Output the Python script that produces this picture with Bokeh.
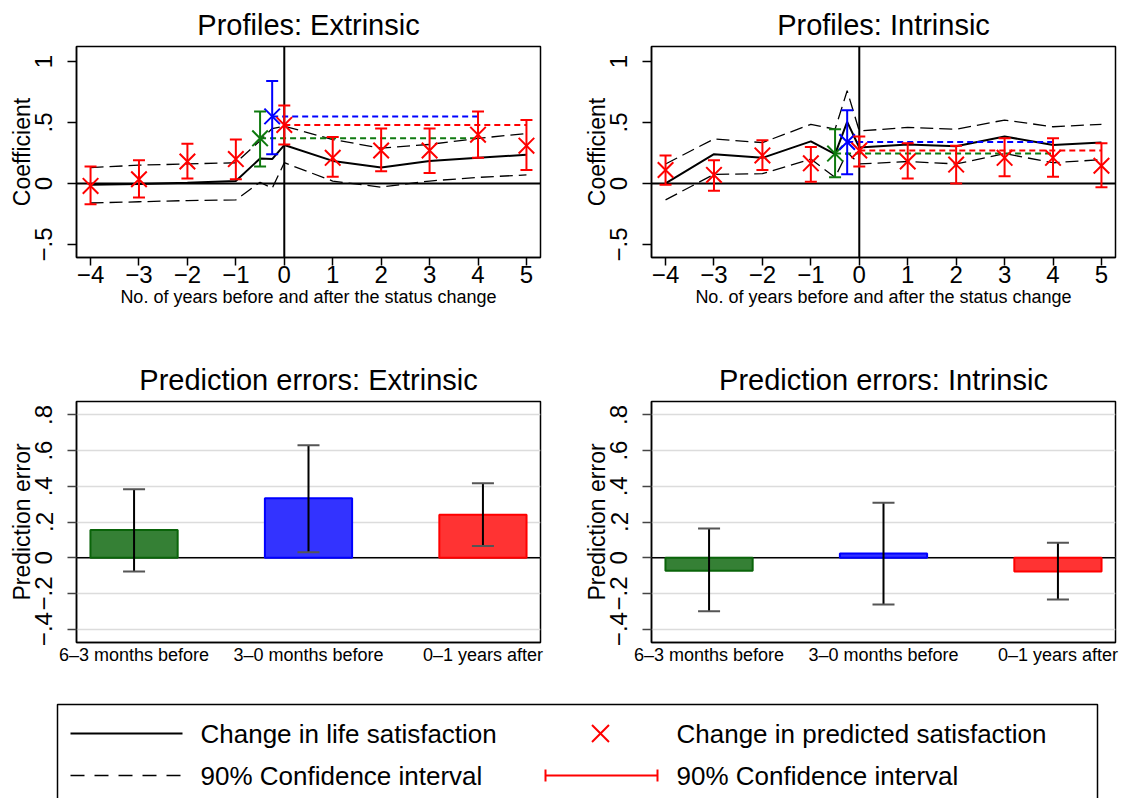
import math
from bokeh.plotting import figure
from bokeh.models import (Range1d, FixedTicker, Span, Whisker, TeeHead,
                          ColumnDataSource, CustomJSTickFormatter)
from bokeh.layouts import column, row
from bokeh.embed import file_html
from bokeh.resources import INLINE
from bokeh.core.properties import value

FONT = "Liberation Sans"

# ---------------- data ----------------
life_x = [-4, -3, -2, -1, -0.5, -0.25, 0, 1, 2, 3, 4, 5]
years = [-4, -3, -2, -1, 0, 1, 2, 3, 4, 5]

# Extrinsic profile
ext_life = [-0.01, -0.005, 0.005, 0.02, 0.205, 0.20, 0.315, 0.185, 0.13, 0.185, 0.21, 0.235]
ext_life_hi = [0.13, 0.15, 0.16, 0.17, 0.35, 0.45, 0.47, 0.36, 0.29, 0.32, 0.37, 0.41]
ext_life_lo = [-0.16, -0.15, -0.14, -0.135, 0.01, -0.04, 0.17, 0.02, -0.03, 0.02, 0.05, 0.07]
ext_pred = [-0.02, 0.035, 0.18, 0.20, 0.48, 0.21, 0.27, 0.27, 0.40, 0.31]
ext_pred_lo = [-0.17, -0.115, 0.04, 0.035, 0.32, 0.055, 0.10, 0.085, 0.21, 0.11]
ext_pred_hi = [0.14, 0.19, 0.325, 0.36, 0.64, 0.38, 0.45, 0.45, 0.59, 0.52]
ext_green = dict(x=-0.5, v=0.37, lo=0.14, hi=0.59, end=4)
ext_blue = dict(x=-0.25, v=0.55, lo=0.24, hi=0.84, end=4)

# Intrinsic profile
int_life = [0.0, 0.24, 0.21, 0.345, 0.24, 0.505, 0.295, 0.32, 0.305, 0.385, 0.315, 0.335]
int_life_hi = [0.16, 0.365, 0.335, 0.485, 0.445, 0.76, 0.43, 0.46, 0.445, 0.52, 0.465, 0.485]
int_life_lo = [-0.135, 0.075, 0.08, 0.2, 0.05, 0.255, 0.16, 0.18, 0.16, 0.245, 0.17, 0.195]
int_pred = [0.11, 0.07, 0.23, 0.165, 0.27, 0.18, 0.155, 0.21, 0.21, 0.145]
int_pred_lo = [-0.01, -0.06, 0.11, 0.015, 0.14, 0.04, 0.0, 0.06, 0.055, -0.03]
int_pred_hi = [0.23, 0.19, 0.355, 0.30, 0.385, 0.33, 0.31, 0.37, 0.37, 0.33]
int_green = dict(x=-0.5, v=0.245, lo=0.05, hi=0.445, end=4)
int_blue = dict(x=-0.25, v=0.34, lo=0.075, hi=0.60, end=4)
red_end = 5

# Prediction errors
periods = ["6\u20133 months before", "3\u20130 months before", "0\u20131 years after"]
pos = [1, 2, 3]
ext_err = [0.155, 0.333, 0.241]
ext_err_lo = [-0.077, 0.03, 0.065]
ext_err_hi = [0.383, 0.63, 0.417]
int_err = [-0.073, 0.024, -0.077]
int_err_lo = [-0.30, -0.262, -0.234]
int_err_hi = [0.163, 0.308, 0.084]

prof_yticks = [-0.5, 0, 0.5, 1]
err_yticks = [-0.4, -0.2, 0, 0.2, 0.4, 0.6, 0.8]

RED = "#ff0000"
BLUE = "#0000ff"
GREEN = "#0f7a0f"
bar_fill = ["#358035", "#3333ff", "#ff3333"]
bar_line = ["#0a640a", "#0000ff", "#ff0000"]

num_fmt = CustomJSTickFormatter(code="""
const t = Math.round(tick*10)/10;
if (t == 0) return "0";
let s = Math.abs(t).toString().replace(/^0/, "");
return (t < 0 ? "\u2212" : "") + s;
""")


def base_fig(title, w, h, top, bottom, right, xr, yr):
    p = figure(width=w, height=h, x_range=xr, y_range=yr,
               output_backend="svg", toolbar_location=None,
               min_border_left=76, min_border_right=right,
               min_border_top=top, min_border_bottom=bottom)
    p.title.text = title
    p.title.text_font = FONT
    p.title.text_font_size = "29px"
    p.title.text_font_style = "normal"
    p.title.text_color = "black"
    p.title.align = "center"
    p.title.standoff = 12
    p.outline_line_color = "black"
    p.outline_line_width = 1.5
    p.background_fill_color = "white"
    p.border_fill_color = "white"
    for ax in (p.xaxis[0], p.yaxis[0]):
        ax.axis_line_width = 1.5
        ax.axis_line_color = "black"
        ax.major_tick_in = 0
        ax.minor_tick_line_color = None
        ax.major_tick_line_width = 1.5
        ax.major_tick_line_color = "black"
        ax.major_label_text_font = FONT
        ax.major_label_text_color = "black"
        ax.axis_label_text_font = FONT
        ax.axis_label_text_color = "black"
        ax.axis_label_text_font_style = "normal"
    p.yaxis.major_label_text_font_size = "24px"
    p.yaxis.major_label_orientation = "parallel"
    p.yaxis.major_tick_out = 9
    p.yaxis.major_label_standoff = 15
    p.yaxis.axis_label_text_font_size = "23px"
    p.yaxis.axis_label_standoff = -2
    p.yaxis.formatter = num_fmt
    return p


def profile(title, life, lo, hi, pred, plo, phi, g, b, right):
    p = base_fig(title, 575 if right == 35 else 546, 340, 46, 83, right,
                 Range1d(-4.29, 5.29), Range1d(-0.607, 1.123))
    p.grid.visible = False
    p.yaxis.ticker = FixedTicker(ticks=prof_yticks)
    p.yaxis.axis_label = "Coefficient"
    p.xaxis.ticker = FixedTicker(ticks=years)
    p.xaxis.formatter = CustomJSTickFormatter(
        code='return tick < 0 ? "\u2212" + Math.abs(tick) : String(tick);')
    p.xaxis.major_label_text_font_size = "24px"
    p.xaxis.major_tick_out = 8
    p.xaxis.major_label_standoff = 0
    p.xaxis.axis_label = "No. of years before and after the status change"
    p.xaxis.axis_label_text_font_size = "18px"
    p.xaxis.axis_label_standoff = 1

    p.add_layout(Span(location=0, dimension="width", line_color="black",
                      line_width=2, level="underlay"))
    p.add_layout(Span(location=0, dimension="height", line_color="black",
                      line_width=2, level="underlay"))

    p.line(life_x, hi, line_color="black", line_width=1.3, line_dash="13 6")
    p.line(life_x, lo, line_color="black", line_width=1.3, line_dash="13 6")
    p.line(life_x, life, line_color="black", line_width=2)

    # horizontal dashed reference lines
    p.line([b["x"], b["end"]], [b["v"], b["v"]], line_color=BLUE, line_width=2, line_dash="6 4")
    p.line([0, red_end], [pred[years.index(0)]] * 2, line_color=RED, line_width=2, line_dash="6 4")
    p.line([g["x"], g["end"]], [g["v"], g["v"]], line_color=GREEN, line_width=2, line_dash="6 4")

    def errbars(xs, los, his, color):
        src = ColumnDataSource(dict(x=xs, lo=los, hi=his))
        w = Whisker(base="x", lower="lo", upper="hi", source=src, dimension="height",
                    line_color=color, line_width=2, level="overlay",
                    upper_head=TeeHead(size=12, line_color=color, line_width=2),
                    lower_head=TeeHead(size=12, line_color=color, line_width=2))
        p.add_layout(w)

    errbars(years, plo, phi, RED)
    errbars([g["x"]], [g["lo"]], [g["hi"]], GREEN)
    errbars([b["x"]], [b["lo"]], [b["hi"]], BLUE)
    p.scatter(years, pred, marker="x", size=22, line_color=RED, line_width=2)
    p.scatter([g["x"]], [g["v"]], marker="x", size=22, line_color=GREEN, line_width=2)
    p.scatter([b["x"]], [b["v"]], marker="x", size=22, line_color=BLUE, line_width=2)
    return p


def errors(title, vals, lo, hi, right):
    p = base_fig(title, 575 if right == 35 else 546, 350, 61, 48, right,
                 Range1d(0.67, 3.33), Range1d(-0.475, 0.875))
    p.xgrid.visible = False
    p.ygrid.grid_line_color = "#dcdcdc"
    p.ygrid.grid_line_width = 1.5
    p.ygrid.ticker = FixedTicker(ticks=err_yticks)
    p.yaxis.ticker = FixedTicker(ticks=err_yticks)
    p.yaxis.axis_label = "Prediction error"
    p.yaxis.major_tick_line_color = "#444444"
    p.xaxis.ticker = FixedTicker(ticks=pos)
    p.xaxis.formatter = CustomJSTickFormatter(args=dict(labels=periods),
                                              code="return labels[Math.round(tick) - 1];")
    p.xaxis.major_tick_out = 0
    p.xaxis.major_label_text_font_size = "18px"
    p.xaxis.major_label_standoff = 2

    p.add_layout(Span(location=0, dimension="width", line_color="black",
                      line_width=1.5, level="underlay"))
    src = ColumnDataSource(dict(x=pos, top=vals, lo=lo, hi=hi,
                                fill=bar_fill, line=bar_line))
    p.vbar(x="x", top="top", bottom=0, width=0.5, source=src,
           fill_color="fill", line_color="line", line_width=2)
    p.add_layout(Whisker(base="x", lower="lo", upper="hi", source=src, dimension="height",
                         line_color="black", line_width=2, level="overlay",
                         upper_head=TeeHead(size=22, line_color="#555555", line_width=2),
                         lower_head=TeeHead(size=22, line_color="#555555", line_width=2)))
    return p


p1 = profile("Profiles: Extrinsic", ext_life, ext_life_lo, ext_life_hi,
             ext_pred, ext_pred_lo, ext_pred_hi, ext_green, ext_blue, 35)
p2 = profile("Profiles: Intrinsic", int_life, int_life_lo, int_life_hi,
             int_pred, int_pred_lo, int_pred_hi, int_green, int_blue, 6)
p3 = errors("Prediction errors: Extrinsic", ext_err, ext_err_lo, ext_err_hi, 35)
p4 = errors("Prediction errors: Intrinsic", int_err, int_err_lo, int_err_hi, 6)

# ---------------- legend ----------------
leg = figure(width=1121, height=108, x_range=Range1d(0, 1121), y_range=Range1d(108, 0),
             output_backend="svg", toolbar_location=None,
             min_border=0, x_axis_location=None, y_axis_location=None)
leg.outline_line_color = None
leg.grid.visible = False
leg.quad(left=[57], right=[1097], top=[14], bottom=[130], fill_color=None,
         line_color="black", line_width=1.5)
row1, row2 = 43, 85
leg.line([70, 182], [row1, row1], line_color="black", line_width=2)
leg.line([70, 182], [row2, row2], line_color="black", line_width=1.3, line_dash="14 10")
leg.scatter([600], [row1], marker="x", size=24, line_color=RED, line_width=2)
leg.segment(x0=[545], y0=[row2], x1=[657], y1=[row2], line_color=RED, line_width=2)
leg.segment(x0=[545, 657], y0=[row2 - 6] * 2, x1=[545, 657], y1=[row2 + 6] * 2,
            line_color=RED, line_width=2)
leg.text(x=[200, 676, 200, 676], y=[row1, row1, row2, row2],
         text=["Change in life satisfaction", "Change in predicted satisfaction",
               "90% Confidence interval", "90% Confidence interval"],
         text_font=value(FONT), text_font_size="26px", text_baseline="middle",
         text_color="black")

layout = column(row(p1, p2), row(p3, p4), leg)
open("out.html", "w").write(file_html(layout, INLINE))
